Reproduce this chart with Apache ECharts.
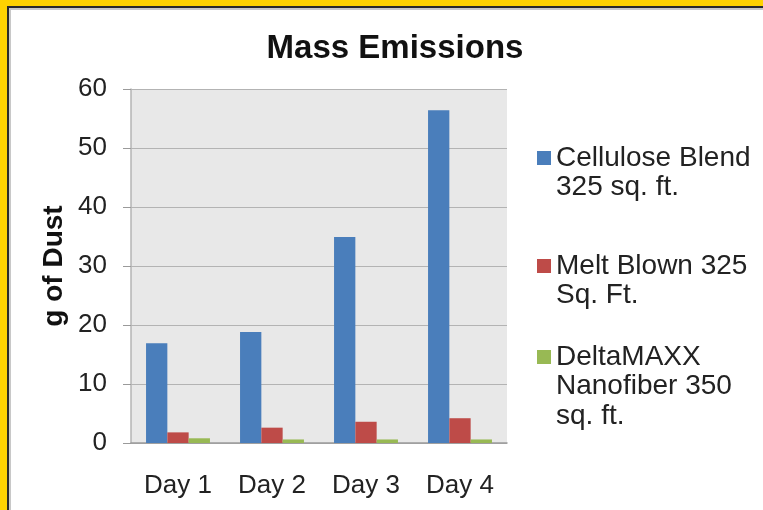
<!DOCTYPE html>
<html>
<head>
<meta charset="utf-8">
<script src="https://cdn.jsdelivr.net/npm/echarts@6/dist/echarts.min.js"></script>
<style>
html,body{margin:0;padding:0;background:#fff;}
#chart{width:763px;height:510px;}
</style>
</head>
<body>
<div id="chart"></div>
<script>
const categories = ['Day 1', 'Day 2', 'Day 3', 'Day 4'];
const seriesNames = ['Cellulose Blend\n325 sq. ft.', 'Melt Blown 325\nSq. Ft.', 'DeltaMAXX\nNanofiber 350\nsq. ft.'];
const celluloseValues = [16.9, 18.8, 34.9, 56.4];
const meltBlownValues = [1.8, 2.6, 3.6, 4.2];
const deltaMaxxValues = [0.8, 0.6, 0.6, 0.6];
const yTicks = { min: 0, max: 60, interval: 10 };
const colors = ['#4A7EBB', '#BE4B48', '#98B954'];

const chart = echarts.init(document.getElementById('chart'));
const font = 'Liberation Sans, Arial, sans-serif';
const LH = 29.5;

function legendFor(i, firstLineCenter) {
  const lines = seriesNames[i].split('\n').length;
  const total = 2 * lines - 1;
  return {
    data: [seriesNames[i]],
    orient: 'vertical',
    left: 537,
    top: firstLineCenter - total * LH / 2,
    padding: 0,
    itemWidth: 14,
    itemHeight: 14,
    icon: 'rect',
    selectedMode: false,
    formatter: function (name) { return '\n'.repeat(lines - 1) + name; },
    textStyle: { fontFamily: font, fontSize: 28, color: '#222', lineHeight: LH }
  };
}

chart.setOption({
  animation: false,
  backgroundColor: '#ffffff',
  title: {
    text: 'Mass Emissions',
    left: 390, textAlign: 'center',
    top: 27,
    textStyle: { fontFamily: font, fontSize: 33, fontWeight: 'bold', color: '#111' }
  },
  graphic: [
    { type: 'rect', shape: { x: 0, y: 0, width: 763, height: 6 }, style: { fill: '#FFD200' }, z: 100 },
    { type: 'rect', shape: { x: 0, y: 0, width: 7, height: 510 }, style: { fill: '#FFD200' }, z: 100 },
    { type: 'rect', shape: { x: 7, y: 6, width: 756, height: 2 }, style: { fill: '#2a2a2a' }, z: 100 },
    { type: 'rect', shape: { x: 7, y: 6, width: 2, height: 504 }, style: { fill: '#2a2a2a' }, z: 100 },
    { type: 'rect', shape: { x: 9, y: 8, width: 754, height: 2 }, style: { fill: '#c8c8c8' }, z: 100 },
    { type: 'rect', shape: { x: 9, y: 8, width: 2, height: 502 }, style: { fill: '#c8c8c8' }, z: 100 }
  ],
  legend: [legendFor(0, 158), legendFor(1, 266), legendFor(2, 357)],
  grid: {
    left: 131, right: 256, top: 89, bottom: 67,
    show: true, backgroundColor: '#E8E8E8', borderWidth: 0
  },
  xAxis: {
    type: 'category',
    data: categories,
    axisLine: { lineStyle: { color: '#9a9a9a', width: 1.5 } },
    axisTick: { show: false },
    axisLabel: { fontFamily: font, fontSize: 26, color: '#222', margin: 30 }
  },
  yAxis: {
    type: 'value',
    min: yTicks.min, max: yTicks.max, interval: yTicks.interval,
    name: 'g of Dust',
    nameLocation: 'middle',
    nameGap: 63,
    nameTextStyle: { fontFamily: font, fontSize: 28, fontWeight: 'bold', color: '#111' },
    axisLine: { show: true, lineStyle: { color: '#b5b5b5', width: 1.5 } },
    axisTick: { show: true, length: 8, lineStyle: { color: '#9a9a9a' } },
    axisLabel: { fontFamily: font, fontSize: 26, color: '#222', margin: 24 },
    splitLine: { lineStyle: { color: '#b3b3b3', width: 1.2 } }
  },
  series: [
    { name: seriesNames[0], type: 'bar', data: celluloseValues, itemStyle: { color: colors[0] }, barGap: '0%', barCategoryGap: '32%' },
    { name: seriesNames[1], type: 'bar', data: meltBlownValues, itemStyle: { color: colors[1] }, barGap: '0%', barCategoryGap: '32%' },
    { name: seriesNames[2], type: 'bar', data: deltaMaxxValues, itemStyle: { color: colors[2] }, barGap: '0%', barCategoryGap: '32%' }
  ]
});
</script>
</body>
</html>
